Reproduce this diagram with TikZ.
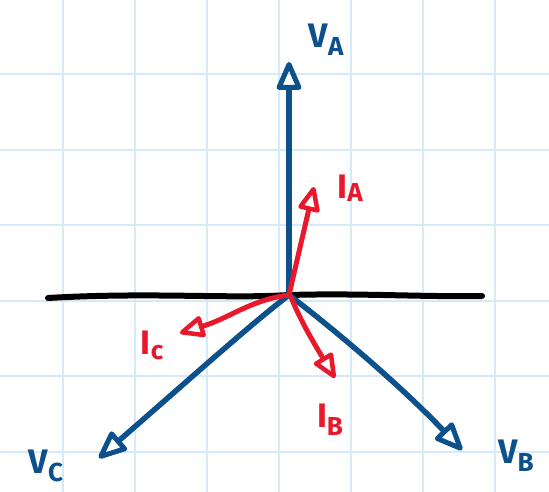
\documentclass[tikz,border=0pt]{standalone}
\usepackage{fontspec}
\setsansfont{Fira Sans}
\usetikzlibrary{arrows.meta}
\definecolor{gridc}{RGB}{212,234,249}
\definecolor{vblue}{RGB}{12,80,140}
\definecolor{ired}{RGB}{232,25,44}
\tikzset{
  gridline/.style={gridc, line width=2pt},
  vvec/.style={vblue, line width=5.5pt, line cap=round, -{Triangle[open, length=32pt, width=26pt, line width=5pt, round]}},
  ivec/.style={ired, line width=5pt, line cap=round, -{Triangle[open, length=28pt, width=23pt, line width=4.5pt, round]}},
  vlab/.style={vblue, font=\sffamily\bfseries\fontsize{34}{34}\selectfont, inner sep=0pt},
  ilab/.style={ired, font=\sffamily\bfseries\fontsize{34}{34}\selectfont, inner sep=0pt},
}
\newcommand\subl[2]{\raisebox{#1}{\fontsize{26}{26}\selectfont #2}}
\begin{document}
\begin{tikzpicture}[x=1pt, y=-1pt]
\useasboundingbox (0,0) rectangle (549,492);
\fill[white] (0,0) rectangle (549,492);
% grid
\foreach \gx in {63,135,207,279,351,423,495}
  \draw[gridline] (\gx,0) -- (\gx,492);
\foreach \gy in {74,149.6,225.2,300.8,376.4,452}
  \draw[gridline] (0,\gy) -- (549,\gy);
% axis
\coordinate (L) at (48,298);
\coordinate (R) at (482,296);
\draw[black, line width=6pt, line cap=round] (L) .. controls (150,292) and (230,299) .. (289,295) .. controls (360,293) and (420,297) .. (R);
% origin and tips
\coordinate (O) at (289,295);
\coordinate (VA) at (289,62);
\coordinate (VB) at (462,450);
\coordinate (VC) at (99,458);
\coordinate (IA) at (314,187);
\coordinate (IB) at (335,378);
\coordinate (IC) at (180,333);
% voltages
\draw[vvec] (O) -- (VA);
\draw[vvec] (O) .. controls (335,330) and (400,385) .. (VB);
\draw[vvec] (O) .. controls (250,325) and (200,370) .. (VC);
% currents
\draw[ivec] (O) -- (IA);
\draw[ivec] (291,297) .. controls (300,320) and (315,345) .. (IB);
\draw[ivec] (O) .. controls (250,300) and (230,318) .. (IC);
% labels
\node[vlab] (lVA) at (326,40) {V\subl{-8pt}{A}};
\node[vlab] (lVB) at (516,456) {V\subl{-8pt}{B}};
\node[vlab] (lVC) at (46,466) {V\subl{-8pt}{C}};
\node[ilab] (lIA) at (350,188) {I\subl{-3pt}{A}};
\node[ilab] (lIB) at (330,420) {I\subl{-8pt}{B}};
\node[ilab] (lIC) at (152,345) {I\subl{-5pt}{c}};
\end{tikzpicture}
\end{document}
